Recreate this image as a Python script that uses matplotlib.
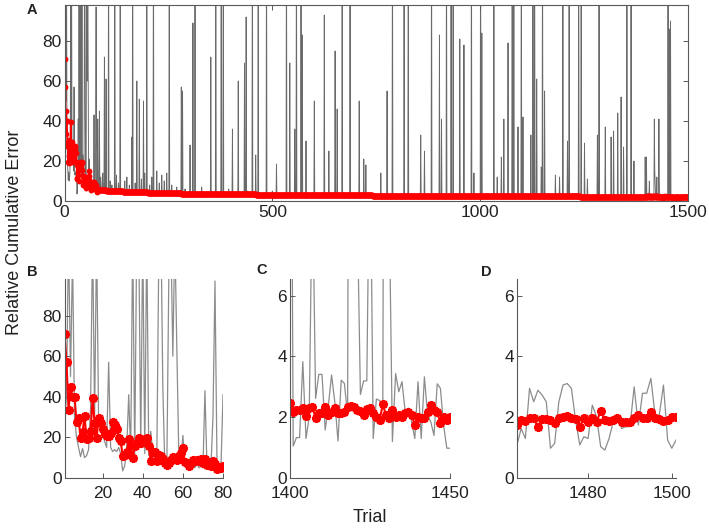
import numpy as np
import matplotlib
matplotlib.use('Agg')
import matplotlib.pyplot as plt

plt.rcParams['font.family'] = ['Liberation Sans', 'DejaVu Sans']

# ---------------- data ----------------
# Panel B : trials 1..80
red_B = [71, 57, 33.7, 45, 40, 40, 27.4, 29.5, 19.7, 22.5,
         30.4, 19.2, 19.7, 23, 39.4, 27, 19.7, 29.5, 27, 24,
         21.8, 20.5, 20.5, 22, 27.4, 26, 24, 19.7, 18, 11,
         11.5, 13, 19, 16.4, 9.9, 15.6, 17.2, 19.7, 17.2, 18.9,
         19.2, 19.7, 15.6, 8.2, 12.6, 12.6, 8.2, 11.5, 10.7, 9.4,
         7.4, 6.6, 7.4, 9, 10.3, 9.4, 9, 10.7, 12.3, 14.8,
         7.7, 7.4, 5.7, 7.4, 9, 8.2, 9, 8.2, 9.4, 7.4,
         9.4, 6.6, 7.4, 6, 8.2, 7, 4.4, 5.4, 4.9, 5.7]
gray_B = [28, 40, 120, 50, 110, 30, 20, 15, 10.5, 14.5,
          10, 11, 14, 35, 120, 30, 120, 28, 25, 22,
          18, 15, 57, 15, 13, 14, 13, 15, 12, 3.5,
          6, 14, 41, 12, 120, 10, 120, 120, 15, 120,
          12, 120, 11, 23, 12, 10, 9, 110, 130, 45,
          6, 5, 100, 120, 60, 120, 63, 10, 8, 21,
          6, 5, 4, 5, 6, 5, 7, 5, 6, 5,
          43, 6, 5, 6, 30, 97, 8, 5, 6, 41]

# Panel C : trials 1400..1450
red_C = [2.46, 2.18, 2.24, 2.24, 2.29, 2.05, 2.29, 2.35, 1.96, 2.13,
         2.13, 2.35, 2.09, 2.18, 2.29, 2.13, 2.13, 2.16, 2.35, 2.37,
         2.35, 2.24, 2.2, 2.07, 2.26, 2.31, 2.13, 2.02, 1.91, 2.42,
         2.07, 1.98, 2.24, 2.02, 2.07, 2.02, 2.13, 2.18, 2.09, 1.74,
         2.02, 1.96, 1.96, 2.18, 2.4, 2.24, 2.18, 1.8, 2.02, 1.91,
         2.02]
gray_C = [22, 1.05, 1.33, 1.33, 3.83, 1.3, 2.0, 10, 2.62, 3.41,
          3.41, 1.58, 2.4, 3.39, 2.5, 1.22, 3.22, 3.11, 2.07, 41,
          15, 9, 2.75, 3.19, 3.2, 12, 1.3, 2.6, 2.55, 2.3,
          41, 9, 1.2, 3.44, 2.84, 3.17, 2.18, 2.3, 1.85, 1.3,
          3.17, 1.3, 3.33, 2.07, 1.85, 1.4, 3.1, 2.95, 1.74, 0.98,
          0.98]

# trials 1451..1462 (only in panel A)
red_gap = [2.0, 2.05, 1.95, 2.0, 1.9, 2.0, 2.05, 1.95, 1.9, 2.0, 1.95, 1.85]
gray_gap = [1.5, 150, 2.5, 1.8, 2.2, 86, 2.0, 90, 2.4, 1.8, 1.3, 1.6]

# Panel D : trials 1463..1501
red_D = [1.74, 1.91, 1.88, 1.96, 1.96, 1.69, 1.94, 1.94, 1.91, 1.8,
         1.96, 2.02, 2.05, 1.96, 1.94, 1.69, 1.96, 1.85, 1.98, 1.85,
         2.2, 1.91, 1.88, 1.91, 1.96, 1.85, 1.83, 1.85, 1.98, 2.07,
         1.96, 1.98, 2.18, 1.98, 1.94, 1.88, 1.91, 2.02, 2.02]
gray_D = [1.09, 1.63, 1.3, 2.95, 2.51, 2.89, 2.73, 2.51, 0.98, 1.14,
          2.51, 3.06, 3.11, 2.95, 1.91, 1.09, 1.36, 1.3, 2.4, 2.02,
          1.03, 0.92, 1.3, 1.85, 2.07, 1.63, 1.69, 1.69, 3.0, 1.74,
          2.79, 2.79, 3.28, 2.07, 2.07, 3.06, 1.25, 0.98, 1.25]

# trials 81..1399 (panel A only): levels read per 20-trial block
red_mid_levels = [5.5, 5.0, 4.8, 4.6, 4.4, 4.3, 4.1, 4.0, 3.9, 3.8,
                  3.7, 3.6, 3.6, 3.5, 3.5, 3.4, 3.4, 3.3, 3.3, 3.2,
                  3.2, 3.1, 3.1, 3.0, 3.0, 3.0, 2.9, 2.9, 2.9, 2.8,
                  2.8, 2.8, 2.8, 2.7, 2.7, 2.7, 2.7, 2.6, 2.6, 2.6,
                  2.6, 2.6, 2.5, 2.5, 2.5, 2.5, 2.5, 2.4, 2.4, 2.4,
                  2.4, 2.4, 2.3, 2.3, 2.3, 2.3, 2.3, 2.3, 2.2, 2.2,
                  2.2, 2.2, 2.2, 2.2, 2.2, 2.2]
gray_mid_levels = [5.0, 4.6, 4.4, 4.2, 4.0, 3.9, 3.7, 3.6, 3.5, 3.4,
                   3.3, 3.2, 3.2, 3.1, 3.1, 3.0, 3.0, 2.9, 2.9, 2.8,
                   2.8, 2.8, 2.7, 2.7, 2.7, 2.6, 2.6, 2.6, 2.6, 2.5,
                   2.5, 2.5, 2.5, 2.4, 2.4, 2.4, 2.4, 2.3, 2.3, 2.3,
                   2.3, 2.3, 2.2, 2.2, 2.2, 2.2, 2.2, 2.1, 2.1, 2.1,
                   2.1, 2.1, 2.0, 2.0, 2.0, 2.0, 2.0, 2.0, 2.0, 2.0,
                   2.0, 2.0, 2.0, 2.0, 2.0, 2.0]
# single-trial excursions of the gray series (trial, value) in 81..1399
spike_trials = [84, 87, 88, 92, 96, 100, 106, 110, 114, 121, 125, 130, 134, 145, 150,
                156, 162, 164, 170, 174, 180, 185, 190, 193, 198, 205, 210, 214, 222,
                228, 234, 240, 246, 252, 258, 270, 281, 284, 290, 302, 309, 314, 330,
                352, 364, 377, 382, 395, 404, 418, 433, 437, 440, 452, 460, 466, 486,
                500, 510, 534, 542, 554, 558, 569, 572, 581, 601, 625, 636, 651, 656,
                668, 687, 709, 720, 725, 761, 776, 789, 817, 827, 857, 866, 883, 902,
                907, 919, 930, 935, 951, 961, 979, 985, 1001, 1004, 1033, 1041, 1051,
                1057, 1067, 1077, 1081, 1091, 1099, 1103, 1122, 1127, 1131, 1136, 1147,
                1150, 1155, 1181, 1191, 1199, 1210, 1214, 1237, 1243, 1251, 1258, 1282,
                1286, 1301, 1315, 1321, 1331, 1339, 1345, 1353, 1363, 1370, 1397]
spike_vals = [45, 12, 9, 14, 72, 61, 150, 10, 8, 150, 13, 9, 150, 10, 12,
              8, 32, 150, 9, 60, 51, 11, 50, 14, 150, 8, 12, 150, 15,
              9, 13, 10, 14, 150, 8, 7, 57, 55, 6, 28, 89, 150, 7,
              72, 150, 150, 150, 6, 36, 60, 69, 92, 5, 150, 23, 150, 150,
              5, 18.5, 150, 69, 36, 150, 150, 83, 30, 50, 93, 25, 75, 46,
              150, 150, 50, 21, 18, 14, 55, 150, 150, 150, 33, 25, 150, 83,
              41, 150, 150, 150, 81, 78, 150, 14, 150, 84, 150, 12, 22,
              41, 79, 150, 150, 37, 150, 42, 33, 150, 150, 61, 17,
              150, 55, 13, 12, 150, 30, 150, 150, 150, 29, 11, 33,
              150, 37, 32, 35, 44, 52, 27, 150, 150, 20, 22]

# ---------------- assemble panel A series ----------------
n_mid = 1399 - 81 + 1
red_mid = np.repeat(red_mid_levels, 20)[:n_mid]
gray_mid = np.repeat(gray_mid_levels, 20)[:n_mid].astype(float)
gray_mid[np.array(spike_trials) - 81] = spike_vals

trials_A = np.arange(1, 1502)
red_A = np.concatenate([red_B, red_mid, red_C, red_gap, red_D])
gray_A = np.concatenate([gray_B, gray_mid, gray_C, gray_gap, gray_D])

trials_B = np.arange(1, 81)
trials_C = np.arange(1400, 1451)
trials_D = np.arange(1463, 1502)

# ---------------- figure ----------------
W, H = 709, 530
fig = plt.figure(figsize=(W / 100, H / 100), dpi=100)

def ax_px(l, t, r, b):
    return fig.add_axes([l / W, 1 - b / H, (r - l) / W, (b - t) / H])

RED = '#ff0000'
TXT = '#222222'
FS = 12.5
ast = (8, 2, 0)

def style(ax, box=False):
    for s in ax.spines.values():
        s.set_color('0.35')
        s.set_linewidth(0.8)
    if not box:
        ax.spines['top'].set_visible(False)
        ax.spines['right'].set_visible(False)
    ax.tick_params(direction='in', length=3.5, width=0.7, color='0.35',
                   labelsize=FS, labelcolor=TXT)
    ax.tick_params(axis='y', pad=2)
    ax.tick_params(axis='x', pad=6)

# Panel A
axA = ax_px(64.5, 5, 688, 201)
axA.plot(trials_A, gray_A, color='#6a6a6a', lw=0.65, zorder=1)
axA.plot(trials_A, red_A, color=RED, lw=1.2, marker='o', ms=4.2, mew=0,
         zorder=2)
axA.set_xlim(0, 1500)
axA.set_ylim(0, 98)
axA.set_xticks([0, 500, 1000, 1500])
axA.set_yticks([0, 20, 40, 60, 80])
style(axA, box=True)
axA.tick_params(right=True, top=True)
axA.tick_params(axis='x', pad=3)

# Panel B
axB = ax_px(64.5, 279, 223, 478)
axB.plot(trials_B, gray_B, color='0.55', lw=0.9, zorder=1)
axB.plot(trials_B, red_B, color=RED, lw=1.5, marker=ast, ms=6.5, mew=1.7,
         mec=RED, zorder=2)
axB.set_xlim(1, 80)
axB.set_ylim(0, 98)
axB.set_xticks([20, 40, 60, 80])
axB.set_yticks([0, 20, 40, 60, 80])
style(axB)

# Panel C
axC = ax_px(290, 279, 450, 478)
axC.plot(trials_C, gray_C, color='0.55', lw=0.9, zorder=1)
axC.plot(trials_C, red_C, color=RED, lw=1.5, marker=ast, ms=6.5, mew=1.7,
         mec=RED, zorder=2)
axC.set_xlim(1400, 1450)
axC.set_ylim(0, 6.55)
axC.set_xticks([1400, 1450])
axC.set_yticks([0, 2, 4, 6])
style(axC)

# Panel D
axD = ax_px(517, 279, 676, 478)
axD.plot(trials_D, gray_D, color='0.55', lw=0.9, zorder=1)
axD.plot(trials_D, red_D, color=RED, lw=1.5, marker=ast, ms=6.5, mew=1.7,
         mec=RED, zorder=2)
axD.set_xlim(1463, 1501)
axD.set_ylim(0, 6.55)
axD.set_xticks([1480, 1500])
axD.set_yticks([0, 2, 4, 6])
style(axD)

# labels
fig.text(15 / W, 1 - 232 / H, 'Relative Cumulative Error', rotation=90,
         ha='center', va='center', fontsize=13, color=TXT)
fig.text(370 / W, 1 - 518 / H, 'Trial', ha='center', va='center',
         fontsize=13, color=TXT)
for lab, x, y in [('A', 32, 10), ('B', 32, 272), ('C', 262, 270), ('D', 486, 272)]:
    fig.text(x / W, 1 - y / H, lab, ha='center', va='center', fontsize=10.5,
             fontweight='bold', color=TXT)

fig.savefig('out.png', dpi=100)
